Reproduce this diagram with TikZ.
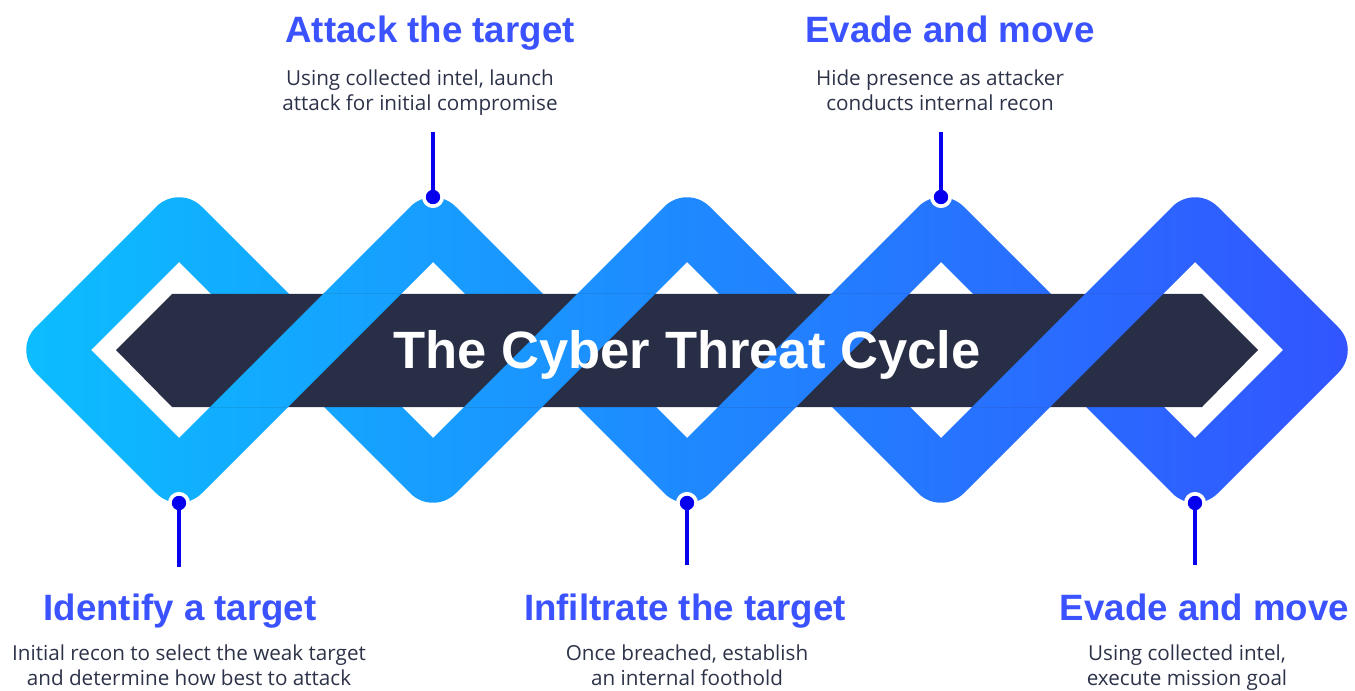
\documentclass[tikz,border=0pt]{standalone}
\usepackage{fontspec}
\setmainfont{Liberation Sans}
\newfontfamily\descfont{Open Sans}
\usetikzlibrary{positioning}
\definecolor{chainleft}{RGB}{11,190,255}
\definecolor{chainright}{RGB}{50,84,255}
\definecolor{bannerdark}{RGB}{39,46,69}
\definecolor{headblue}{RGB}{58,82,255}
\definecolor{desctext}{RGB}{44,50,72}
\definecolor{pinblue}{RGB}{6,0,238}

\begin{document}
\begin{tikzpicture}[x=0.75pt, y=-0.75pt,
	heading/.style={text=headblue, font=\fontsize{27.5}{33}\selectfont\bfseries, anchor=base, inner sep=0pt},
	desc/.style={text=desctext, font=\descfont\fontsize{15.5}{19.1}\selectfont, align=center, anchor=base, inner sep=0pt},
	pin/.style={circle, fill=pinblue, draw=white, line width=2.75pt, minimum size=13.8pt, inner sep=0pt},
	pinline/.style={draw=pinblue, line width=3.2pt}]
\useasboundingbox (0,0) rectangle (1355,691);

\begin{scope}
\clip \foreach \c in {179,433,687,941,1195}{
	[rounded corners=24pt] (\c,184) -- (\c+166,350) -- (\c,516) -- (\c-166,350) -- cycle
	[sharp corners] (\c,262) -- (\c-88,350) -- (\c,438) -- (\c+88,350) -- cycle};
\shade[left color=chainleft, right color=chainright] (13,184) rectangle (1361,516);
\end{scope}

\fill[bannerdark] (116,350) -- (172,294) -- (1202,294) -- (1258,350) -- (1202,407) -- (172,407) -- cycle;

\begin{scope}
\clip \foreach \c in {179,433,687,941}{
	(\c+144,294) -- (\c+222,294) -- (\c+109,407) -- (\c+31,407) -- cycle};
\shade[left color=chainleft, right color=chainright] (13,184) rectangle (1361,516);
\end{scope}

\node (title) [text=white, font=\fontsize{39.4}{47}\selectfont\bfseries, anchor=base, inner sep=0pt] at (687,368.3) {The Cyber Threat Cycle};

\node (pin1) [pin] at (179,503) {};
\node (pin2) [pin] at (433,197) {};
\node (pin3) [pin] at (687,503) {};
\node (pin4) [pin] at (941,197) {};
\node (pin5) [pin] at (1195,503) {};
\coordinate (end1) at (179,567);
\coordinate (end2) at (433,132);
\coordinate (end3) at (687,565);
\coordinate (end4) at (941,132);
\coordinate (end5) at (1195,565);
\draw[pinline] (pin1.center) -- (end1);
\draw[pinline] (pin2.center) -- (end2);
\draw[pinline] (pin3.center) -- (end3);
\draw[pinline] (pin4.center) -- (end4);
\draw[pinline] (pin5.center) -- (end5);

\node (head2) [heading] at (430,42.7) {Attack the target};
\node (desc2) [desc] at (420,111) {Using collected intel, launch\\attack for initial compromise};
\node (head4) [heading] at (950,42.7) {Evade and move};
\node (desc4) [desc] at (940,111) {Hide presence as attacker\\conducts internal recon};

\node (head1) [heading] at (180,620.7) {Identify a target};
\node (desc1) [desc] at (189,685.5) {Initial recon to select the weak target\\and determine how best to attack};
\node (head3) [heading] at (685,620.7) {Infiltrate the target};
\node (desc3) [desc] at (687,685.5) {Once breached, establish\\an internal foothold};
\node (head5) [heading] at (1204.5,620.7) {Evade and move};
\node (desc5) [desc] at (1187,685.5) {Using collected intel,\\execute mission goal};
\end{tikzpicture}
\end{document}
